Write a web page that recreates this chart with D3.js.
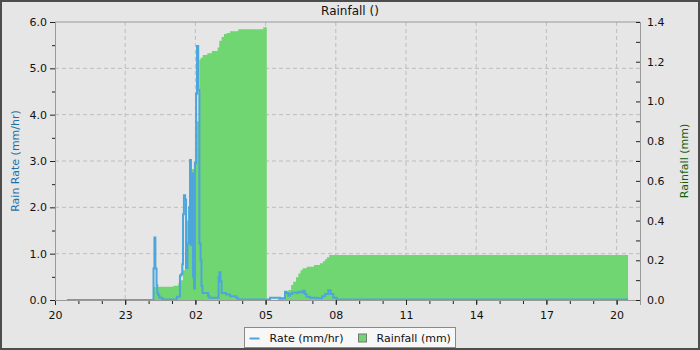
<!DOCTYPE html>
<html>
<head>
<meta charset="utf-8">
<script src="https://cdn.jsdelivr.net/npm/d3@7"></script>
<style>
  body { margin: 0; background: #e6e6e6; }
  svg { display: block; font-family: "DejaVu Sans", sans-serif; }
</style>
</head>
<body>
<svg id="chart"></svg>
<script>
var width = 700, height = 350;
var margin = {top: 22, right: 60, bottom: 50, left: 55};
var visWidth = width - margin.left - margin.right;
var visHeight = height - margin.top - margin.bottom;

// hours after 20:00 on the first day
var start = new Date(2021, 0, 1, 20, 0);
var rateHours = [0.51, 4.21, 4.25, 4.29, 4.34, 4.37, 4.41, 4.46, 4.59, 5.21, 5.34, 5.40, 5.44, 5.47, 5.51, 5.56, 5.60, 5.66, 5.73, 5.77, 5.81, 5.85, 5.90, 5.94, 5.98, 6.03, 6.07, 6.12, 6.17, 6.22, 6.26, 6.30, 6.54, 6.60, 6.99, 7.03, 7.07, 7.12, 7.31, 7.48, 7.74, 7.82, 9.19, 9.62, 9.83, 9.90, 9.97, 10.04, 10.14, 10.33, 10.40, 10.54, 10.61, 10.68, 10.75, 10.90, 11.18, 11.41, 11.54, 11.68, 11.78, 11.89, 12.04, 24.49];
var rateValues = [0.0, 0.68, 1.35, 0.68, 0.32, 0.15, 0.1, 0.05, 0.01, 0.07, 0.53, 0.56, 0.77, 1.85, 2.26, 2.17, 0.69, 1.22, 2.0, 3.02, 1.18, 2.73, 0.5, 0.25, 2.95, 4.45, 5.48, 4.53, 1.22, 0.86, 0.3, 0.15, 0.09, 0.05, 0.5, 0.6, 0.4, 0.15, 0.12, 0.08, 0.05, 0.01, 0.05, 0.04, 0.18, 0.15, 0.09, 0.13, 0.16, 0.15, 0.18, 0.16, 0.2, 0.13, 0.07, 0.05, 0.04, 0.08, 0.13, 0.21, 0.13, 0.05, 0.01, 0.01];

var rainHours = [0.51, 4.20, 5.06, 5.27, 5.38, 5.47, 5.56, 5.63, 5.73, 5.84, 5.94, 6.06, 6.17, 6.22, 6.31, 6.51, 6.70, 6.95, 7.02, 7.12, 7.22, 7.34, 7.48, 7.83, 8.90, 9.05, 9.53, 9.76, 9.87, 9.97, 10.09, 10.18, 10.30, 10.40, 10.49, 10.58, 10.76, 11.07, 11.32, 11.45, 11.54, 11.62, 11.72, 24.49];
var rainValues = [0.0, 0.067, 0.072, 0.084, 0.1, 0.15, 0.25, 0.40, 0.55, 0.66, 0.70, 0.9, 1.21, 1.22, 1.234, 1.242, 1.254, 1.272, 1.306, 1.325, 1.34, 1.345, 1.354, 1.364, 1.373, 0.0, 0.005, 0.015, 0.035, 0.05, 0.075, 0.092, 0.115, 0.134, 0.15, 0.16, 0.168, 0.176, 0.185, 0.195, 0.205, 0.215, 0.227, 0.227];

var hourTicks = [0, 3, 6, 9, 12, 15, 18, 21, 24];
var rateTicks = [0, 1, 2, 3, 4, 5, 6];
var rainTicks = [0, 0.2, 0.4, 0.6, 0.8, 1.0, 1.2, 1.4];

var toDate = function (h) { return new Date(start.getTime() + h * 3600 * 1000); };
var rateData = rateHours.map(function (h, i) { return {t: toDate(h), v: rateValues[i]}; });
var rainData = rainHours.map(function (h, i) { return {t: toDate(h), v: rainValues[i]}; });
var majorX = hourTicks.map(toDate);

var svg = d3.select("#chart").attr("width", width).attr("height", height);

svg.append("rect")
    .attr("x", 1).attr("y", 1)
    .attr("width", width - 2).attr("height", height - 2)
    .attr("fill", "#e6e6e6")
    .attr("stroke", "#4d4d4d")
    .attr("stroke-width", 2);

var g = svg.append("g")
    .attr("transform", "translate(" + margin.left + "," + margin.top + ")");

var x = d3.scaleTime()
    .domain([start, toDate(25)])
    .range([0, visWidth]);
var y = d3.scaleLinear().domain([0, 6]).range([visHeight, 0]);
var y2 = d3.scaleLinear().domain([0, 1.4]).range([visHeight, 0]);

// grid
g.selectAll(".vgrid")
    .data(majorX.slice(1))
    .enter().append("line")
    .attr("x1", function (d) { return x(d); })
    .attr("x2", function (d) { return x(d); })
    .attr("y1", 0).attr("y2", visHeight)
    .attr("stroke", "#bdbdbd").attr("stroke-dasharray", "4,3");
g.selectAll(".hgrid")
    .data(rateTicks.slice(1, -1))
    .enter().append("line")
    .attr("x1", 0).attr("x2", visWidth)
    .attr("y1", function (d) { return y(d); })
    .attr("y2", function (d) { return y(d); })
    .attr("stroke", "#bdbdbd").attr("stroke-dasharray", "4,3");

// rainfall area
var area = d3.area()
    .curve(d3.curveStepAfter)
    .x(function (d) { return x(d.t); })
    .y0(visHeight)
    .y1(function (d) { return y2(d.v); });
g.append("path").datum(rainData)
    .attr("d", area)
    .attr("fill", "#70d672");

// rate line
var line = d3.line()
    .curve(d3.curveStepAfter)
    .x(function (d) { return x(d.t); })
    .y(function (d) { return y(d.v); });
g.append("path").datum(rateData)
    .attr("d", line)
    .attr("fill", "none")
    .attr("stroke", "#4ca6dc")
    .attr("stroke-width", 2);

// frame
g.append("line").attr("x1", 0).attr("x2", visWidth).attr("y1", 0).attr("y2", 0)
    .attr("stroke", "#999");

// axes
var xAxis = g.append("g").attr("transform", "translate(0," + visHeight + ")")
    .call(d3.axisBottom(x).ticks(d3.timeHour.every(1)).tickSize(4).tickFormat(""));
var xAxisMajor = g.append("g").attr("transform", "translate(0," + visHeight + ")")
    .call(d3.axisBottom(x).tickValues(majorX).tickSize(5).tickFormat(d3.timeFormat("%H")));

var yAxisMinor = g.append("g")
    .call(d3.axisLeft(y).tickValues(d3.range(0.5, 6, 1)).tickSize(3).tickFormat(""));
var yAxis = g.append("g")
    .call(d3.axisLeft(y).tickValues(rateTicks).tickSize(5).tickFormat(d3.format(".1f")));

var y2Axis = g.append("g").attr("transform", "translate(" + visWidth + ",0)")
    .call(d3.axisRight(y2).tickValues(d3.range(0, 1.45, 0.1)).tickSize(-4).tickFormat(""));
var y2Labels = g.append("g").attr("transform", "translate(" + visWidth + ",0)")
    .call(d3.axisRight(y2).tickValues(rainTicks).tickSize(0).tickPadding(7).tickFormat(d3.format(".1f")));

[xAxis, xAxisMajor, yAxisMinor, yAxis, y2Axis, y2Labels].forEach(function (a) {
    a.selectAll("path").attr("stroke", "#999");
    a.selectAll("line").attr("stroke", "#222");
    a.selectAll("text").attr("fill", "#111").style("font-size", "11px").style("font-family", "DejaVu Sans");
});
xAxisMajor.selectAll("text").attr("dy", "1.0em");

// titles
svg.append("text")
    .attr("x", 350).attr("y", 15)
    .attr("text-anchor", "middle")
    .style("font-size", "12px")
    .attr("fill", "#111")
    .text("Rainfall ()");

svg.append("text")
    .attr("transform", "translate(19," + (margin.top + visHeight / 2) + ") rotate(-90)")
    .attr("text-anchor", "middle")
    .style("font-size", "11px")
    .attr("fill", "#1e6fa6")
    .text("Rain Rate (mm/hr)");

svg.append("text")
    .attr("transform", "translate(688," + (margin.top + visHeight / 2) + ") rotate(-90)")
    .attr("text-anchor", "middle")
    .style("font-size", "11px")
    .attr("fill", "#0f5f0f")
    .text("Rainfall (mm)");

// legend
var legend = svg.append("g").attr("transform", "translate(244.5,327.5)");
legend.append("rect")
    .attr("width", 211).attr("height", 20)
    .attr("fill", "#f7f7f7").attr("stroke", "#8a8a8a");
legend.append("line")
    .attr("x1", 5).attr("x2", 15).attr("y1", 11).attr("y2", 11)
    .attr("stroke", "#4ca6dc").attr("stroke-width", 2);
legend.append("text")
    .attr("x", 25).attr("y", 14.5)
    .style("font-size", "11px").attr("fill", "#111")
    .text("Rate (mm/hr)");
legend.append("rect")
    .attr("x", 114).attr("y", 6.5).attr("width", 8).attr("height", 8)
    .attr("fill", "#70d672").attr("stroke", "#777");
legend.append("text")
    .attr("x", 132).attr("y", 14.5)
    .style("font-size", "11px").attr("fill", "#111")
    .text("Rainfall (mm)");
</script>
</body>
</html>
